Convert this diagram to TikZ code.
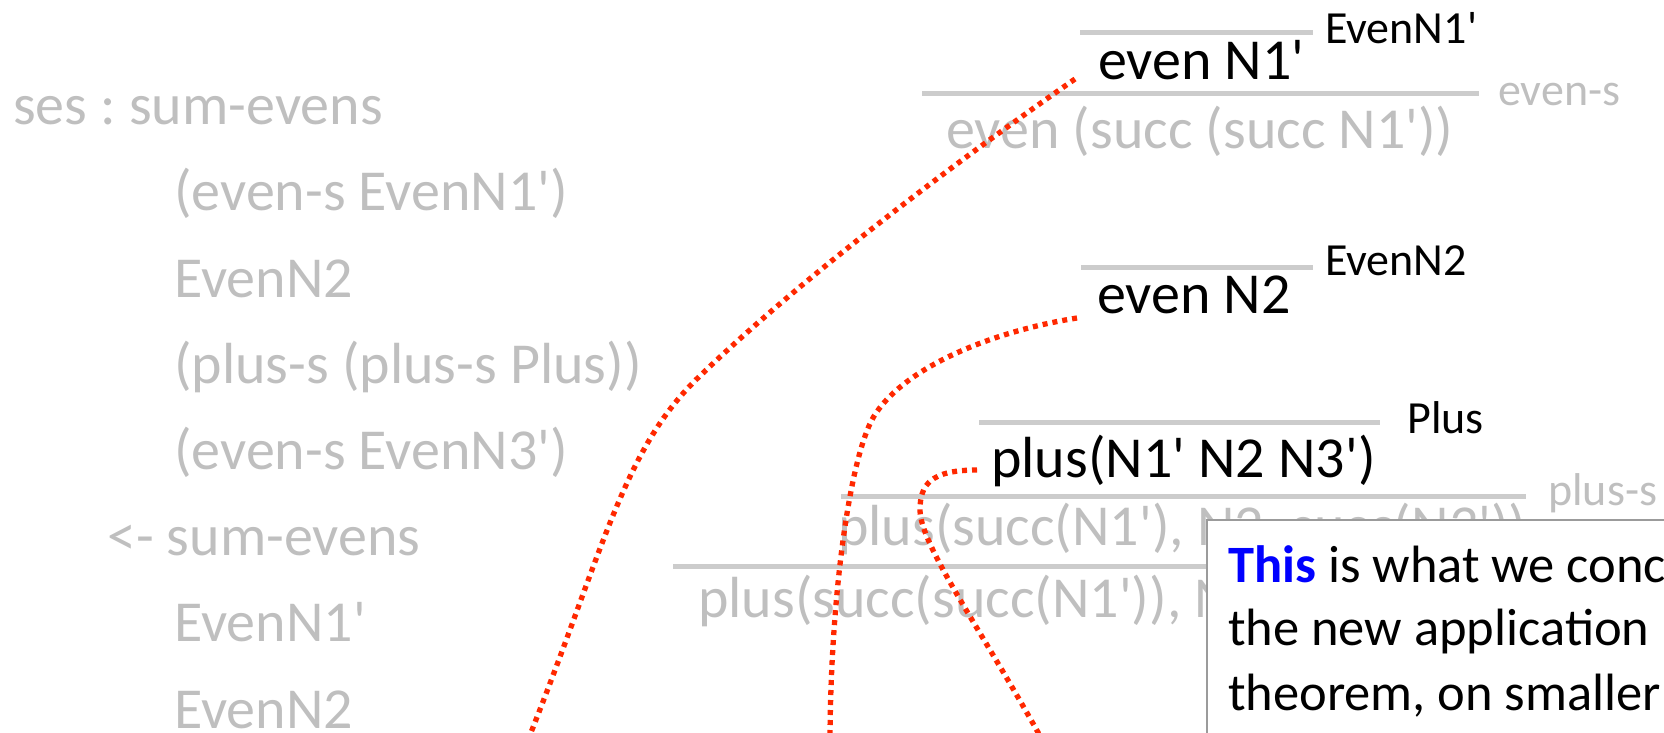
\documentclass[tikz,border=0pt]{standalone}
\usepackage{fontspec}
\setmainfont{Carlito}[Ligatures=TeXOff]
\frenchspacing
\definecolor{gtext}{RGB}{191,191,191}
\definecolor{gbar}{RGB}{204,204,204}
\definecolor{rdot}{RGB}{255,40,0}
\definecolor{bblue}{RGB}{0,0,255}
\definecolor{boxline}{RGB}{155,155,155}
\tikzset{
 big/.style={font=\fontsize{58}{70}\selectfont, inner sep=0pt, anchor=base west},
 gbig/.style={big, text=gtext},
 bbig/.style={big, text=black},
 lab/.style={font=\fontsize{46}{55}\selectfont, inner sep=0pt, anchor=base west},
 glab/.style={lab, text=gtext},
 blab/.style={lab, text=black},
 rulebar/.style={draw=gbar, line width=5pt},
 link/.style={draw=rdot, line width=5.3pt, dash pattern=on 5pt off 5pt},
 boxtxt/.style={font=\fontsize{52.5}{64}\selectfont, inner sep=0pt, anchor=base west},
 notebox/.style={draw=boxline, line width=2pt, fill=white}
}
\begin{document}
\begin{tikzpicture}[x=1pt,y=-1pt]
\useasboundingbox (0,0) rectangle (1664,732);
\clip (0,0) rectangle (1664,732);
% left column
\node[gbig] (l1) at (13,124) {ses : sum-evens};
\node[gbig] (l2) at (174,210) {(even-s EvenN1')};
\node[gbig] (l3) at (174,297) {EvenN2};
\node[gbig] (l4) at (174,383) {(plus-s (plus-s Plus))};
\node[gbig] (l5) at (174,469) {(even-s EvenN3')};
\node[gbig] (l6) at (107,555) {<- sum-evens};
\node[gbig] (l7) at (174,641) {EvenN1'};
\node[gbig] (l8) at (174,728) {EvenN2};
% derivation 1
\draw[rulebar] (1080,32) -- (1313,32);
\node[blab] (lb1) at (1325,43) {EvenN1'};
\node[bbig] (n1) at (1098,79) {even N1'};
\draw[rulebar] (922,93) -- (1479,93);
\node[glab] (lbs1) at (1498,105) {even-s};
\node[gbig] (g1) at (946,148) {even (succ (succ N1'))};
% derivation 2
\draw[rulebar] (1081,267) -- (1313,267);
\node[blab] (lb2) at (1325,275) {EvenN2};
\node[bbig] (n2) at (1097,313) {even N2};
% derivation 3
\draw[rulebar] (979,422) -- (1380,422);
\node[blab] (lb3) at (1407,433) {Plus};
\node[bbig] (n3) at (991,477) {plus(N1' N2 N3')};
\draw[rulebar] (841,496) -- (1526,496);
\node[glab] (lbs2) at (1548,505) {plus-s};
\node[gbig] (g2) at (838,545) {plus(succ(N1'), N2, succ(N3'))};
\draw[rulebar] (673,566) -- (1650,566);
\node[gbig] (g3) at (698,617) {plus(succ(succ(N1')), N2, succ(succ(N3')))};
% note box
\path[notebox] (1207,520) rectangle (1720,790);
\node[boxtxt] (t1) at (1228,582) {\textcolor{bblue}{\textbf{This}} is what we conc};
\node[boxtxt] (t2) at (1228,645) {the new application};
\node[boxtxt] (t3) at (1228,710) {theorem, on smaller};
% dotted links
\coordinate (e1) at (526,745);
\coordinate (e2) at (830,745);
\coordinate (e3) at (1045,745);
\draw[link] ([xshift=-23pt]n1.base west) .. controls (960,159) and (805,275) .. (703,373)
  .. controls (623,447) and (606,545) .. (e1);
\draw[link] ([xshift=-20pt,yshift=-5pt]n2.base west) .. controls (1000,330) and (910,363) .. (876,413)
  .. controls (850,450) and (830,600) .. (e2);
\draw[link] ([xshift=-14pt,yshift=7pt]n3.base west) .. controls (930,470) and (920,485) .. (920,510)
  .. controls (920,545) and (983,632) .. (e3);
\end{tikzpicture}
\end{document}
